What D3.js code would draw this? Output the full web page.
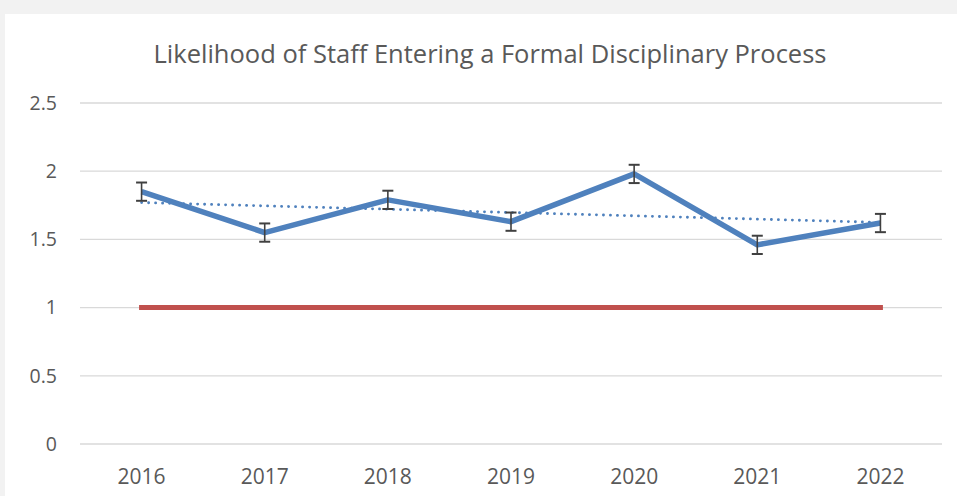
<!DOCTYPE html>
<html>
<head>
<meta charset="utf-8">
<script src="https://cdn.jsdelivr.net/npm/d3@7"></script>
<style>
  body { margin: 0; background: #f2f2f2; }
  svg { display: block; }
</style>
</head>
<body>
<script>
// chart values
const years = ["2016", "2017", "2018", "2019", "2020", "2021", "2022"];
const likelihood = [1.85, 1.55, 1.79, 1.63, 1.98, 1.46, 1.62];
const errorMargin = [0.067, 0.067, 0.067, 0.067, 0.067, 0.067, 0.067];
const baseline = [1, 1, 1, 1, 1, 1, 1];
const yTicks = [0, 0.5, 1, 1.5, 2, 2.5];
const title = "Likelihood of Staff Entering a Formal Disciplinary Process";

const width = 957, height = 496;
const margin = {left: 80, right: 15, top: 103, bottom: 52};
const font = "'Open Sans', sans-serif";

const svg = d3.select("body").append("svg")
    .attr("width", width)
    .attr("height", height);

// white chart area
svg.append("rect")
    .attr("x", 5).attr("y", 14)
    .attr("width", width - 5).attr("height", height - 14)
    .attr("fill", "#ffffff");

const x = d3.scaleBand()
    .domain(years)
    .range([margin.left, width - margin.right]);

const y = d3.scaleLinear()
    .domain([0, 2.5])
    .range([height - margin.bottom, margin.top]);

const cx = d => x(d) + x.bandwidth() / 2;

// gridlines
svg.append("g")
    .selectAll("line")
    .data(yTicks)
    .join("line")
    .attr("x1", margin.left)
    .attr("x2", width - margin.right)
    .attr("y1", d => y(d))
    .attr("y2", d => y(d))
    .attr("stroke", "#d9d9d9")
    .attr("stroke-width", 1.3);

// y axis labels
const yAxis = svg.append("g")
    .attr("transform", "translate(" + (margin.left - 23) + ",0)")
    .call(d3.axisLeft(y).tickValues(yTicks).tickSize(0).tickPadding(0).tickFormat(d3.format("")));
yAxis.select(".domain").remove();
yAxis.selectAll("text")
    .attr("font-family", font)
    .attr("font-size", 19.5)
    .attr("fill", "#595959");

// x axis labels
const xAxis = svg.append("g")
    .attr("transform", "translate(0," + (height - margin.bottom) + ")")
    .call(d3.axisBottom(x).tickSize(0));
xAxis.select(".domain").remove();
xAxis.selectAll("text")
    .attr("y", 40)
    .attr("dy", 0)
    .attr("font-family", font)
    .attr("font-size", 21)
    .attr("fill", "#595959");

// reference line at 1
const lineGen = d3.line()
    .x((d, i) => cx(years[i]))
    .y(d => y(d));

svg.append("path")
    .datum(baseline)
    .attr("d", lineGen)
    .attr("fill", "none")
    .attr("stroke", "#c0504d")
    .attr("stroke-width", 5)
    .attr("stroke-linecap", "square");

// linear trendline of the main series
const n = likelihood.length;
const mx = d3.mean(likelihood, (d, i) => i);
const my = d3.mean(likelihood);
const slope = d3.sum(likelihood, (d, i) => (i - mx) * (d - my)) / d3.sum(likelihood, (d, i) => (i - mx) * (i - mx));
const trend = likelihood.map((d, i) => my + slope * (i - mx));

svg.append("path")
    .datum([trend[0], trend[n - 1]])
    .attr("d", d3.line()
        .x((d, i) => cx(years[i === 0 ? 0 : n - 1]))
        .y(d => y(d)))
    .attr("fill", "none")
    .attr("stroke", "#4f81bd")
    .attr("stroke-width", 2.8)
    .attr("stroke-linecap", "round")
    .attr("stroke-dasharray", "0.1 6.9");

// main series
svg.append("path")
    .datum(likelihood)
    .attr("d", lineGen)
    .attr("fill", "none")
    .attr("stroke", "#4f81bd")
    .attr("stroke-width", 5.5)
    .attr("stroke-linejoin", "round");

// error bars
const errG = svg.append("g")
    .attr("stroke", "#404040")
    .attr("stroke-width", 1.6);

likelihood.forEach((v, i) => {
    const px = cx(years[i]);
    const top = y(v + errorMargin[i]);
    const bot = y(v - errorMargin[i]);
    errG.append("line").attr("x1", px).attr("x2", px).attr("y1", top).attr("y2", bot);
    errG.append("line").attr("x1", px - 5.5).attr("x2", px + 5.5).attr("y1", top).attr("y2", top).attr("stroke-width", 2);
    errG.append("line").attr("x1", px - 5.5).attr("x2", px + 5.5).attr("y1", bot).attr("y2", bot).attr("stroke-width", 2);
});

// title
svg.append("text")
    .attr("x", 490)
    .attr("y", 63)
    .attr("text-anchor", "middle")
    .attr("font-family", font)
    .attr("font-size", 25.5)
    .attr("fill", "#595959")
    .text(title);
</script>
</body>
</html>
